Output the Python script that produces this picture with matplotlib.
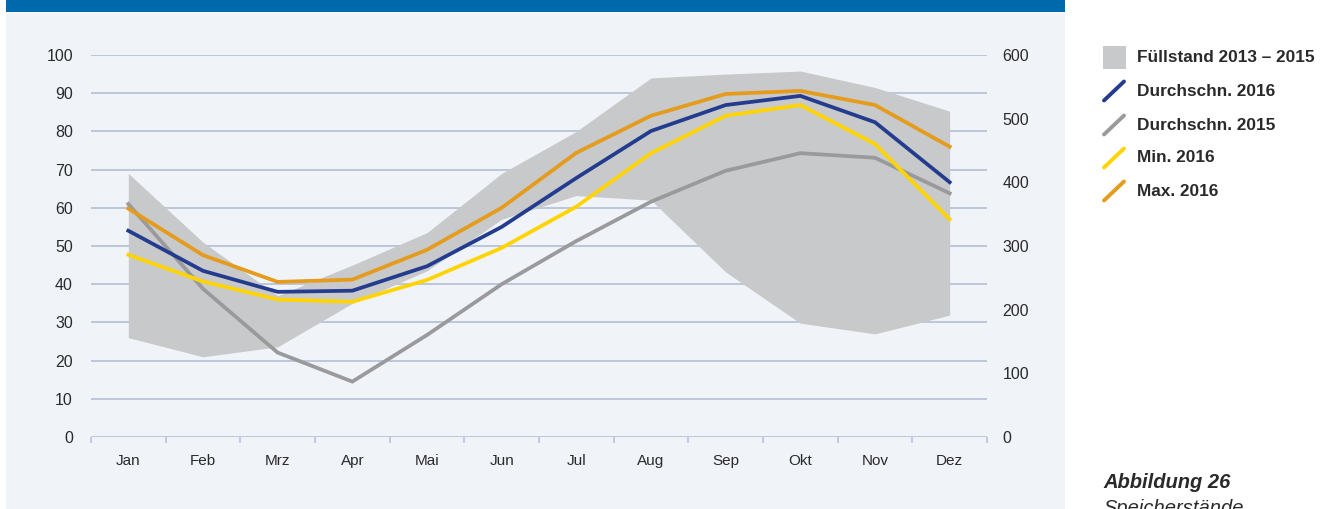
import matplotlib
matplotlib.use("Agg")
import matplotlib.pyplot as plt
from matplotlib.patches import Rectangle
from matplotlib.lines import Line2D

plt.rcParams['font.family'] = ['Liberation Sans', 'DejaVu Sans']

months = ["Jan", "Feb", "Mrz", "Apr", "Mai", "Jun", "Jul", "Aug", "Sep", "Okt", "Nov", "Dez"]
band_upper = [69, 51, 37, 45, 53.5, 69, 80, 94, 95, 95.8, 91.5, 85.3]
band_lower = [26, 21, 23.6, 35, 43.5, 57, 63.2, 62, 43.2, 29.8, 27, 31.9]
avg_2016 = [54, 43.5, 38, 38.3, 44.7, 55, 67.8, 80.1, 86.9, 89.3, 82.4, 66.7]
avg_2015 = [61, 38.8, 22.1, 14.5, 26.7, 40, 51.3, 61.6, 69.7, 74.3, 73.1, 63.8]
min_2016 = [47.7, 40.7, 36, 35.4, 41.1, 49.5, 60.3, 74.3, 84.1, 86.9, 76.7, 57]
max_2016 = [59.8, 47.6, 40.6, 41.2, 49, 60, 74.4, 84.1, 89.8, 90.6, 86.9, 76]
left_ticks = [0, 10, 20, 30, 40, 50, 60, 70, 80, 90, 100]
right_ticks = [0, 100, 200, 300, 400, 500, 600]

legend_labels = ["Füllstand 2013 – 2015", "Durchschn. 2016", "Durchschn. 2015", "Min. 2016", "Max. 2016"]

W, H = 1322, 509
fig = plt.figure(figsize=(W / 100, H / 100), dpi=100)
fig.patch.set_facecolor("white")

PANEL = "#F0F3F8"
BLUEBAR = "#0069AB"
GRID = "#B7C3DA"
BAND = "#C8C9CB"
NAVY = "#233C8E"
GRAYL = "#9A9A9C"
YELLOW = "#FFD400"
ORANGE = "#E59B1B"
TXT = "#2A2A2A"

def fx(px):
    return px / W

def fy(py):
    return (H - py) / H

# panel background and top bar
fig.patches.append(Rectangle((fx(6), 0), fx(1065) - fx(6), fy(13), transform=fig.transFigure,
                             facecolor=PANEL, edgecolor="none", zorder=-10))
fig.patches.append(Rectangle((fx(6), fy(12)), fx(1065) - fx(6), fy(0) - fy(12), transform=fig.transFigure,
                             facecolor=BLUEBAR, edgecolor="none", zorder=-10))

ax = fig.add_axes([fx(91), fy(437), fx(987) - fx(91), fy(55) - fy(437)])
ax.set_facecolor("none")
x = list(range(len(months)))

ax.fill_between(x, band_lower, band_upper, color=BAND, linewidth=0, zorder=2)
lw = 2.7
ax.plot(x, avg_2015, color=GRAYL, lw=lw, zorder=3, solid_joinstyle="miter")
ax.plot(x, avg_2016, color=NAVY, lw=lw, zorder=4, solid_joinstyle="miter")
ax.plot(x, min_2016, color=YELLOW, lw=lw, zorder=5, solid_joinstyle="miter")
ax.plot(x, max_2016, color=ORANGE, lw=lw, zorder=6, solid_joinstyle="miter")

ax.set_xlim(-0.5, 11.5)
ax.set_ylim(0, 100)
ax.set_yticks(left_ticks)
for t in left_ticks:
    ax.axhline(t, color=GRID, lw=1.3, zorder=1)
for s in ["top", "right", "left", "bottom"]:
    ax.spines[s].set_visible(False)
ax.set_xticks(x)
ax.set_xticklabels(months)
ax.set_xticks([i - 0.5 for i in range(13)], minor=True)
ax.tick_params(axis="x", which="major", length=0, pad=12, labelsize=11, labelcolor=TXT)
ax.tick_params(axis="x", which="minor", length=4, width=1.2, color=GRID)
ax.tick_params(axis="y", length=0, pad=13, labelsize=11.5, labelcolor=TXT)

ax2 = ax.twinx()
ax2.set_ylim(0, 600)
ax2.set_yticks(right_ticks)
for s in ["top", "right", "left", "bottom"]:
    ax2.spines[s].set_visible(False)
ax2.tick_params(axis="y", length=0, pad=11, labelsize=11.5, labelcolor=TXT)

# legend (manual)
fig.patches.append(Rectangle((fx(1103), fy(69)), fx(1126) - fx(1103), fy(46) - fy(69),
                             transform=fig.transFigure, facecolor=BAND, edgecolor="none"))
fig.text(fx(1137), fy(57), legend_labels[0], fontsize=12.4, fontweight="bold", color=TXT,
         va="center", ha="left")
line_cols = [NAVY, GRAYL, YELLOW, ORANGE]
ys = [91, 125, 158, 191]
for lab, col, yc in zip(legend_labels[1:], line_cols, ys):
    fig.lines.append(Line2D([fx(1104), fx(1124)], [fy(yc + 9.5), fy(yc - 9.5)],
                            transform=fig.transFigure, color=col, lw=2.8, solid_capstyle="round"))
    fig.text(fx(1137), fy(yc), lab, fontsize=12.4, fontweight="bold", color=TXT,
             va="center", ha="left")

fig.text(fx(1103), fy(488), "Abbildung 26", fontsize=14.5, fontweight="bold", style="italic",
         color=TXT, va="baseline", ha="left")
fig.text(fx(1103), fy(514), "Speicherstände", fontsize=14.5, style="italic",
         color=TXT, va="baseline", ha="left")

fig.savefig("out.png", dpi=100)
